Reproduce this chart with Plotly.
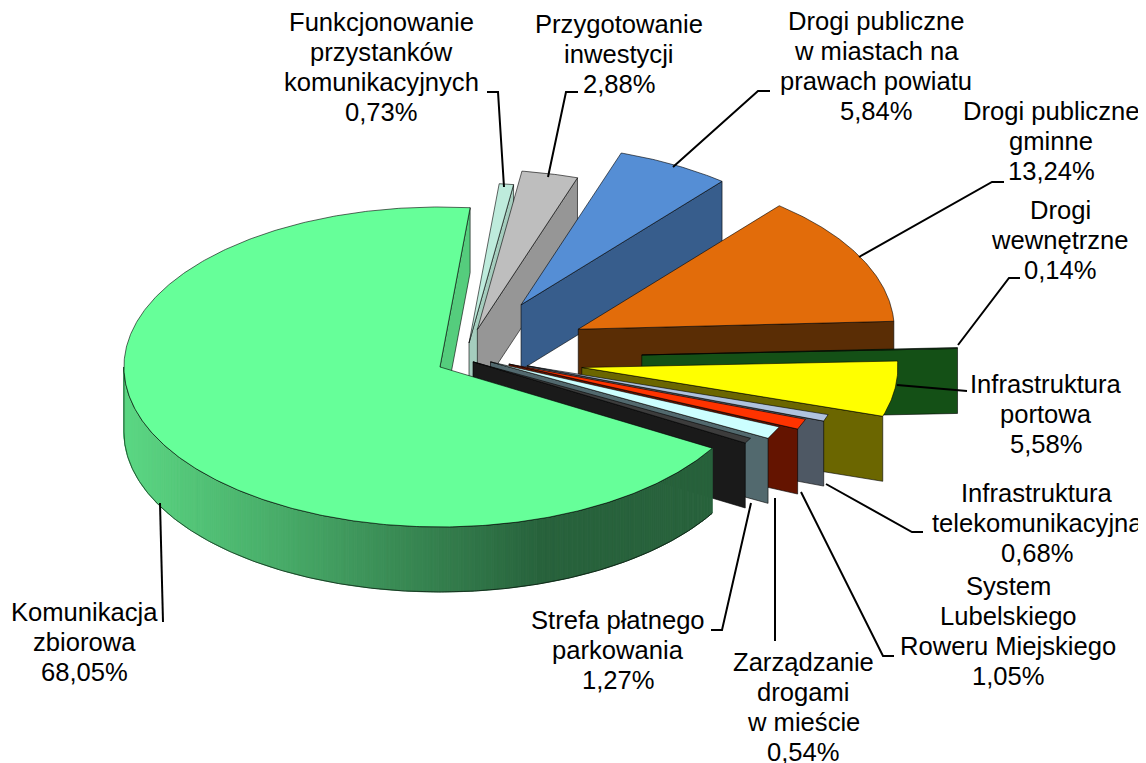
import numpy as np
import plotly.graph_objects as go

# slices in clockwise order, starting from the big one
categories = [['Komunikacja', 'zbiorowa'], ['Funkcjonowanie', 'przystanków', 'komunikacyjnych'], ['Przygotowanie', 'inwestycji'],
              ['Drogi publiczne', 'w miastach na', 'prawach powiatu'], ['Drogi publiczne', 'gminne'], ['Drogi', 'wewnętrzne'],
              ['Infrastruktura', 'portowa'], ['Infrastruktura', 'telekomunikacyjna'], ['System', 'Lubelskiego', 'Roweru Miejskiego'],
              ['Strefa płatnego', 'parkowania'], ['Zarządzanie', 'drogami', 'w mieście']]
shares = [68.05, 0.73, 2.88, 5.84, 13.24, 0.14, 5.58, 0.68, 1.05, 1.27, 0.54]
explode = [0.089, 0.107, 0.17, 0.366, 0.401, 0.56, 0.373, 0.208, 0.15, 0.09, 0.029]
nudge_y = [3, 2.5, -1.5, -1.5, 0.5, 1.5, 2, -2.5, -2.5, -2, 2]

top_colors = ['#66FF99', '#BEEBDC', '#BEBEBE', '#558ED5', '#E26C0A', '#11501A', '#FFFF00', '#B0C3DE', '#FF3300', '#CCFFFF', '#3C3C3C']
wall_colors = ['#55CD7D', '#A5CDBE', '#969696', '#375D8C', '#5A2D05', '#145016', '#6B6600', '#4E5864', '#641400', '#52696E', '#1A1A1A']

# pie geometry in page pixels
cx, cy = 465, 357.5
rx, ry = 316, 160
depth = 65
first_angle = 120.5

# label text centres
label_x = [84, 381, 619, 876, 1051, 1060, 1046, 1037, 1008, 618, 803]
label_y = [642, 67, 54, 66, 141, 240, 414, 523, 631, 650, 707]
line_gap = 30.2

# leader lines from label to slice
leaders = [
    ([163, 160], [622, 503]),
    ([487, 498, 504], [92, 92, 187]),
    ([578, 566, 548], [92, 92, 177]),
    ([770, 758, 673], [91, 91, 167]),
    ([1004, 992, 859], [182, 182, 257]),
    ([1020, 1009, 958], [278, 278, 345]),
    ([967, 897], [391, 385]),
    ([923, 912, 826], [532, 532, 484]),
    ([894, 883, 801], [656, 656, 492]),
    ([711, 722, 751], [630, 630, 503]),
    ([775, 775], [641, 498]),
]

OUTLINE = 'rgba(0,0,0,0.75)'


def point(ang, tip):
    a = np.radians(ang)
    return tip[0] + rx * np.sin(a), tip[1] - ry * np.cos(a)


def poly(fig, xs, ys, fill, line=OUTLINE, width=0.8):
    fig.add_trace(go.Scatter(x=xs, y=ys, mode='lines', fill='toself', fillcolor=fill,
                             line=dict(color=line, width=width), hoverinfo='skip', showlegend=False))


def wall_shade(x):
    # green rim goes dark towards the right
    t = min(max((x - 124) / (545 - 124), 0), 1)
    return 'rgb(%d,%d,%d)' % (92 - 52 * t, 216 - 118 * t, 132 - 72 * t)


fig = go.Figure()

# start/end angle of every slice
spans = []
ang = first_angle
for s in shares:
    spans.append((ang, ang + s * 3.6))
    ang += s * 3.6

# back to front: big slice goes last
for i in list(range(1, len(shares))) + [0]:
    a0, a1 = spans[i]
    mid = np.radians((a0 + a1) / 2)
    tip = (cx + explode[i] * rx * np.sin(mid), cy - explode[i] * ry * np.cos(mid) + nudge_y[i])

    # radial wall at the clockwise end
    ex, ey = point(a1, tip)
    poly(fig, [tip[0], ex, ex, tip[0], tip[0]], [tip[1], ey, ey + depth, tip[1] + depth, tip[1]], wall_colors[i])

    # outer wall, only the part facing the viewer
    lo, hi = max(a0, 90), min(a1, 270)
    if lo < hi:
        arc = np.linspace(lo, hi, max(int((hi - lo) * 2), 8))
        px, py = point(arc, tip)
        if i == 0:
            for j in range(len(arc) - 1):
                poly(fig, [px[j], px[j + 1], px[j + 1], px[j], px[j]],
                     [py[j], py[j + 1], py[j + 1] + depth, py[j] + depth, py[j]],
                     wall_shade(px[j]), line=wall_shade(px[j]), width=1)
            fig.add_trace(go.Scatter(x=list(px) + list(px[::-1]), y=list(py) + list(py[::-1] + depth), mode='lines',
                                     line=dict(color=OUTLINE, width=0.8), hoverinfo='skip', showlegend=False))
        else:
            poly(fig, list(px) + list(px[::-1]) + [px[0]], list(py) + list(py[::-1] + depth) + [py[0]], wall_colors[i])

    # top face
    arc = np.linspace(a0, a1, max(int((a1 - a0) * 2), 4))
    px, py = point(arc, tip)
    poly(fig, [tip[0]] + list(px) + [tip[0]], [tip[1]] + list(py) + [tip[1]], top_colors[i])

for lx, ly in leaders:
    fig.add_trace(go.Scatter(x=lx, y=ly, mode='lines', line=dict(color='black', width=2),
                             hoverinfo='skip', showlegend=False))

for i, c in enumerate(categories):
    lines = c + [f'{shares[i]:.2f}%'.replace('.', ',')]
    for k, text in enumerate(lines):
        fig.add_annotation(x=label_x[i], y=label_y[i] + (k - (len(lines) - 1) / 2) * line_gap, text=text,
                           showarrow=False, xanchor='center', yanchor='middle',
                           font=dict(color='black', size=25.6))

# the page body has an 8 px margin, so the axes start there
fig.update_xaxes(range=[8, 1146], visible=False)
fig.update_yaxes(range=[763, 8], visible=False)
fig.update_layout(
    width=1138, height=755,
    margin=dict(l=0, r=0, t=0, b=0),
    paper_bgcolor='white', plot_bgcolor='white',
    font=dict(family='Liberation Sans'),
)

fig.write_html("out.html")
